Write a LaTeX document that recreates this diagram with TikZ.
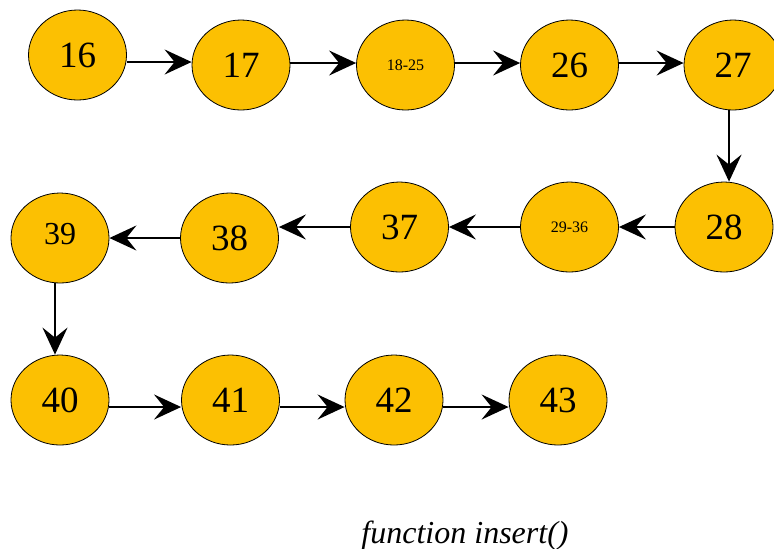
\documentclass[tikz,border=0pt]{standalone}
\usepackage{fontspec}
\setmainfont{Liberation Serif}
\usetikzlibrary{shapes.geometric,arrows.meta}
\definecolor{nodefill}{RGB}{252,192,2}
\begin{document}
\begin{tikzpicture}[x=0.5pt,y=-0.5pt,
    main/.style={ellipse,draw,line width=0.4pt,fill=nodefill,inner sep=0pt,
        minimum width=49pt,minimum height=45pt,font=\fontsize{18.5}{19}\selectfont},
    small/.style={font=\fontsize{8}{9}\selectfont},
    link/.style={line width=1pt,-{Stealth[length=13.5pt,width=12.5pt,inset=5pt]}}]
    \useasboundingbox[fill=white] (0,0) rectangle (774,548);

    \node[main] at (77.5, 55) (n16) {16};
    \node[main] at (241, 65) (n17) {17};
    \node[main, small] at (405.5, 65) (n18to25) {18-25};
    \node[main] at (569.5, 65) (n26) {26};
    \node[main] at (733, 65) (n27) {27};

    \node[main] at (724, 227) (n28) {28};
    \node[main, small] at (569.5, 227) (n29to36) {29-36};
    \node[main] at (399.5, 227) (n37) {37};
    \node[main] at (229.5, 238) (n38) {38};
    \node[main, font=\fontsize{16}{17}\selectfont] at (60, 238) (n39) {\raisebox{4pt}{39}};

    \node[main] at (60, 400) (n40) {40};
    \node[main] at (230.5, 400) (n41) {41};
    \node[main] at (394, 400) (n42) {42};
    \node[main] at (558, 400) (n43) {43};

    \node[font=\fontsize{16}{18}\selectfont\itshape, anchor=base] at (465, 543) (caption) {function insert()};

    \draw[link] ([yshift=-3.5pt]n16.east) -- ([yshift=1.5pt]n17.west);
    \draw[link] ([yshift=1pt]n17.east) -- ([yshift=1pt]n18to25.west);
    \draw[link] ([yshift=1pt]n18to25.east) -- ([yshift=1pt]n26.west);
    \draw[link] ([yshift=1pt]n26.east) -- ([yshift=1pt]n27.west);
    \draw[link] (n27.south -| n28.north) ++(5,0) -- ([xshift=2.5pt]n28.north);

    \draw[link] (n28.west) -- (n29to36.east);
    \draw[link] (n29to36.west) -- (n37.east);
    \draw[link] (n37.west) -- (n37.west -| n38.east);
    \draw[link] (n38.west) -- (n39.east);
    \draw[link] ([xshift=-2.5pt]n39.south) -- ([xshift=-2.5pt]n40.north);

    \draw[link] ([yshift=-3.5pt]n40.east) -- ([yshift=-3.5pt]n41.west);
    \draw[link] ([yshift=-3.5pt]n41.east) -- ([yshift=-3.5pt]n42.west);
    \draw[link] ([yshift=-3.5pt]n42.east) -- ([yshift=-3.5pt]n43.west);
\end{tikzpicture}
\end{document}
